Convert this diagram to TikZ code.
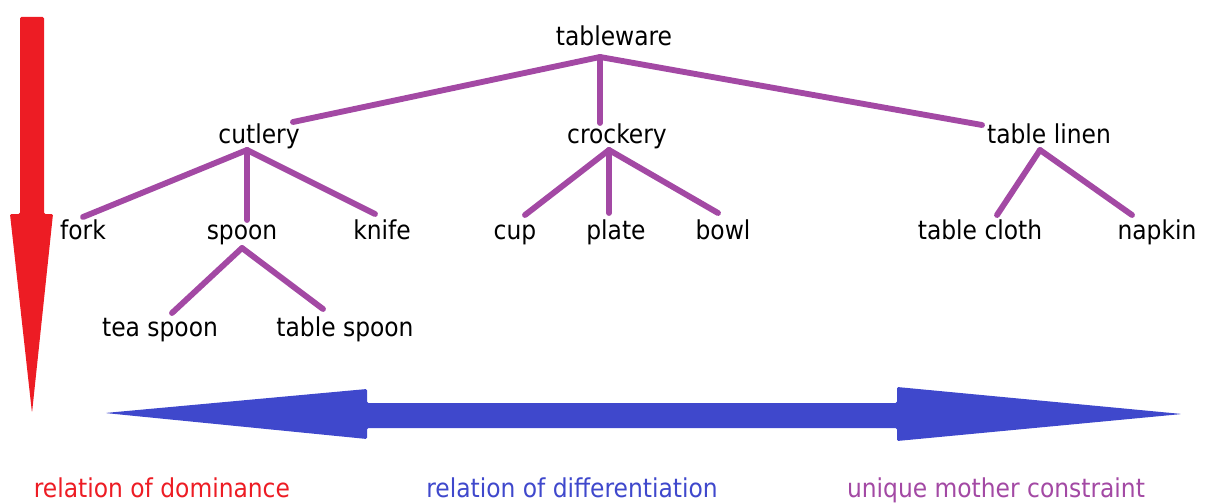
\documentclass[tikz,border=0pt]{standalone}
\usepackage{fontspec}
\setmainfont{DejaVu Sans Condensed}
\usetikzlibrary{calc}
\definecolor{treepurple}{HTML}{A349A4}
\definecolor{domred}{HTML}{ED1C24}
\definecolor{diffblue}{HTML}{3F48CC}
\tikzset{
  word/.style={anchor=base, inner sep=0pt, font=\fontsize{19.5}{22}\selectfont},
  label/.style={anchor=base, inner sep=0pt, font=\fontsize{19.5}{22}\selectfont},
  branch/.style={draw=treepurple, line width=4.4pt, line cap=round, line join=round}
}
\begin{document}
\begin{tikzpicture}[x=0.75pt, y=-0.75pt]
\useasboundingbox (0,0) rectangle (1206,503);

% words of the tree
\node[word] (tableware)  at (614,46)  {tableware};
\node[word] (cutlery)    at (259,143) {cutlery};
\node[word] (crockery)   at (617,143) {crockery};
\node[word] (linen)      at (1049,143) {table linen};
\node[word] (fork)       at (83,239)  {fork};
\node[word] (spoon)      at (242,239) {spoon};
\node[word] (knife)      at (382,239) {knife};
\node[word] (cup)        at (515,239) {cup};
\node[word] (plate)      at (616,239) {plate};
\node[word] (bowl)       at (723,239) {bowl};
\node[word] (cloth)      at (980,239) {table cloth};
\node[word] (napkin)     at (1157,239) {napkin};
\node[word] (teaspoon)   at (160,336) {tea spoon};
\node[word] (tablespoon) at (345,336) {table spoon};

% branching points under each mother
\coordinate (tableware-j) at ($(tableware.base)+(-14,11)$);
\coordinate (cutlery-j)   at ($(cutlery.base)+(-12,7)$);
\coordinate (crockery-j)  at ($(crockery.base)+(-8,7)$);
\coordinate (linen-j)     at ($(linen.base)+(-9,7)$);
\coordinate (spoon-j)     at ($(spoon.base)+(0,9)$);

% branches
\draw[branch] (tableware-j) -- ($(cutlery.base)+(34,-21)$);
\draw[branch] (tableware-j) -- ($(crockery.base)+(-17,-20)$);
\draw[branch] (tableware-j) -- ($(linen.base)+(-67,-18)$);
\draw[branch] (cutlery-j) -- ($(fork.base)+(0,-22)$);
\draw[branch] (cutlery-j) -- ($(spoon.base)+(5,-19)$);
\draw[branch] (cutlery-j) -- ($(knife.base)+(-7,-25)$);
\draw[branch] (crockery-j) -- ($(cup.base)+(10,-24)$);
\draw[branch] (crockery-j) -- ($(plate.base)+(-7,-26)$);
\draw[branch] (crockery-j) -- ($(bowl.base)+(-5,-26)$);
\draw[branch] (linen-j) -- ($(cloth.base)+(17,-24)$);
\draw[branch] (linen-j) -- ($(napkin.base)+(-25,-24)$);
\draw[branch] (spoon-j) -- ($(teaspoon.base)+(12,-23)$);
\draw[branch] (spoon-j) -- ($(tablespoon.base)+(-22,-27)$);

% dominance arrow
\fill[domred, rounded corners=1pt] (20,17) -- (44,17) -- (44,214) -- (53,214)
  -- (32,413) -- (10,214) -- (20,214) -- cycle;

% differentiation arrow
\fill[diffblue, rounded corners=1pt] (105,413) -- (367,389) -- (367,403) -- (897,403)
  -- (897,387) -- (1182,414) -- (897,441) -- (897,428) -- (367,428)
  -- (367,439) -- cycle;

% captions
\node[label, text=domred]     (dominance) at (162,497) {relation of dominance};
\node[label, text=diffblue]   (differ)    at (572,497) {relation of differentiation};
\node[label, text=treepurple] (unique)    at (996,497) {unique mother constraint};
\end{tikzpicture}
\end{document}
